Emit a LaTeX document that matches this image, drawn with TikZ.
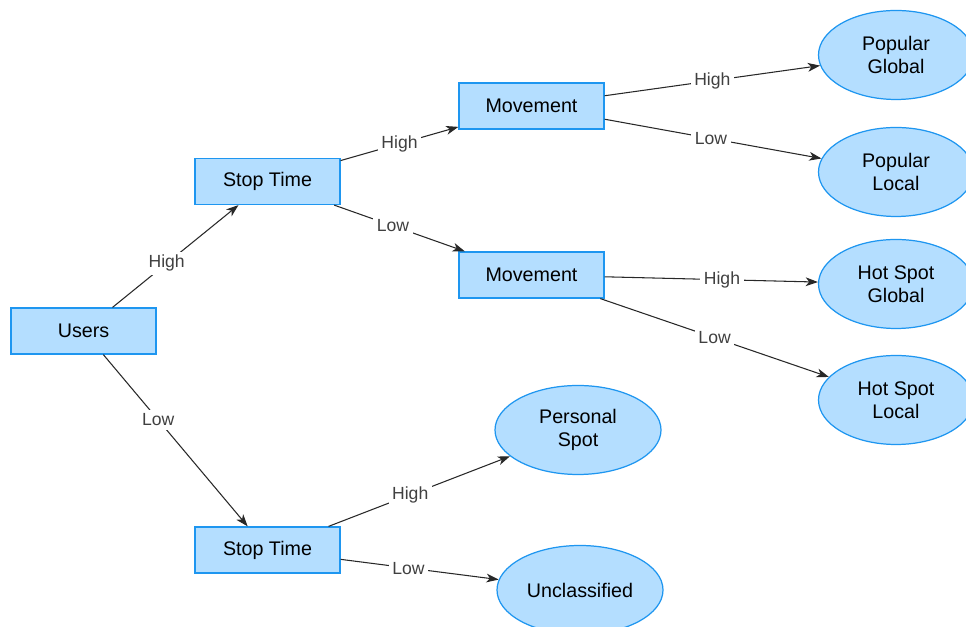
\documentclass[tikz,border=0pt]{standalone}
\usepackage{fontspec}
\setmainfont{Liberation Sans}
\usepackage{tikz}
\usetikzlibrary{arrows.meta,shapes.geometric}
\definecolor{boxfill}{RGB}{180,222,255}
\definecolor{boxline}{RGB}{30,150,240}
\definecolor{edgeline}{RGB}{40,40,40}

\begin{document}
\begin{tikzpicture}[
    box/.style={rectangle,draw=boxline,fill=boxfill,line width=0.7pt,minimum width=2.9cm,minimum height=0.92cm,font=\fontsize{11.2}{13}\selectfont},
    leaf/.style={ellipse,draw=boxline,fill=boxfill,line width=0.7pt,minimum width=3.1cm,minimum height=1.78cm,inner sep=0pt,align=center,font=\fontsize{11.2}{13}\selectfont},
    link/.style={draw=edgeline,line width=0.6pt,-{Stealth[length=7pt,width=5pt,inset=2pt]}},
    lab/.style={fill=white,inner sep=2pt,text=black!75,font=\fontsize{10}{12}\selectfont}
  ]
    \clip (0,0) rectangle (19.32,12.54);
    \fill[white] (0,0) rectangle (19.32,12.54);

    \node (users) at (1.67,5.92) [box]{Users};
    \node (stopA) at (5.35,8.91) [box]{Stop Time};
    \node (stopB) at (5.35,1.54) [box]{Stop Time};
    \node (moveA) at (10.63,10.42) [box]{Movement};
    \node (moveB) at (10.63,7.04) [box]{Movement};

    \node (popG) at (17.92,11.44) [leaf]{Popular\\Global};
    \node (popL) at (17.92,9.10) [leaf]{Popular\\Local};
    \node (hotG) at (17.92,6.86) [leaf]{Hot Spot\\Global};
    \node (hotL) at (17.92,4.54) [leaf]{Hot Spot\\Local};
    \node (pers) at (11.56,3.94) [leaf,minimum width=3.32cm]{Personal\\Spot};
    \node (uncl) at (11.60,0.74) [leaf,minimum width=3.32cm]{Unclassified};

    \draw[link] (users) -- node[lab,pos=0.43]{High} (stopA);
    \draw[link] (users) -- node[lab,pos=0.38]{Low} (stopB);
    \draw[link] (stopA) -- node[lab]{High} (moveA);
    \draw[link] (stopA) -- node[lab,pos=0.45]{Low} (moveB);
    \draw[link] (moveA) -- node[lab]{High} (popG);
    \draw[link] (moveA) -- node[lab,pos=0.49]{Low} (popL);
    \draw[link] (moveB) -- node[lab,pos=0.55]{High} (hotG);
    \draw[link] (moveB) -- node[lab]{Low} (hotL);
    \draw[link] (stopB) -- node[lab,pos=0.45]{High} (pers);
    \draw[link] (stopB) -- node[lab,pos=0.43]{Low} (uncl);
  \end{tikzpicture}
\end{document}
